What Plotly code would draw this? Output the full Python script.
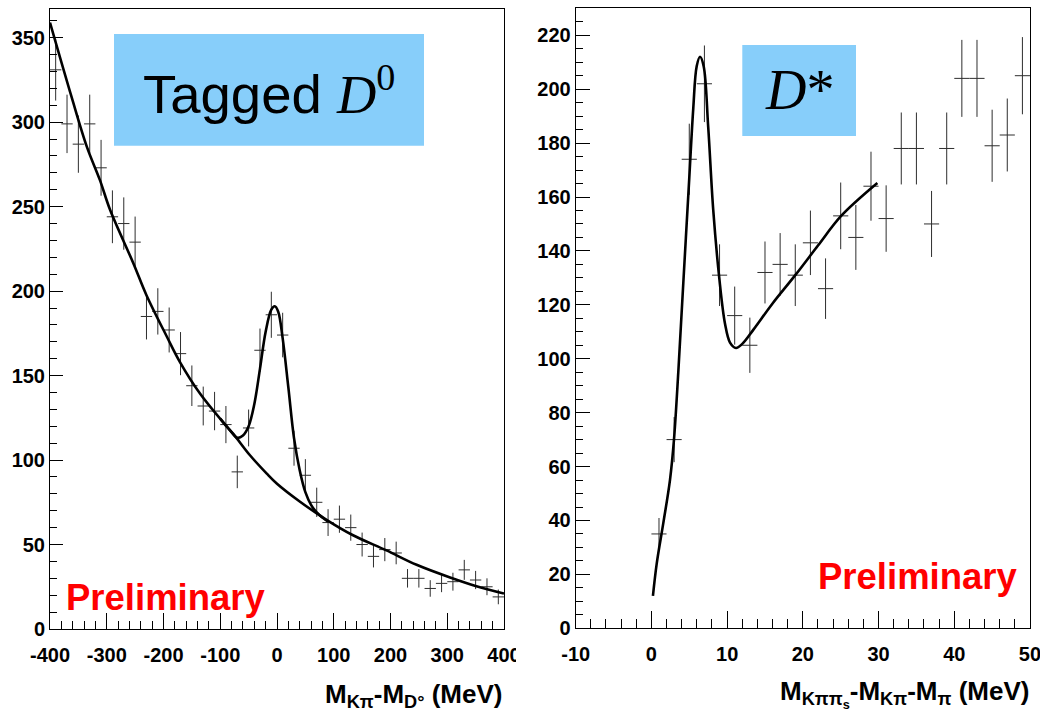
import numpy as np
import plotly.graph_objects as go

W, H = 1040, 712

# ---------------- left panel: tagged D0 ----------------
d0_mass = list(range(-390, 400, 20))  # bin centres (MeV), 20 MeV bins
d0_counts = [331, 299, 287, 299, 273, 244, 240, 229, 185, 188,
             177, 163, 144, 132, 129, 121, 93, 119, 165, 186,
             174, 107, 91, 75, 63, 65, 60, 50, 43, 47,
             45, 30, 30, 24, 27, 28, 35, 29, 25, 19]

# fitted background and background+signal curves
d0_bkg_x = [-400, -362, -335, -312, -294, -253, -230, -194, -171, -136,
            -89, -77, -48, -18, 0, 40, 88, 134, 193, 246, 305, 350, 400]
d0_bkg_y = [359, 315, 285.4, 265.7, 248, 216.4, 197.6, 173, 158, 139.5,
            120, 115.5, 103, 92, 86, 75.5, 64.5, 55.5, 46.5, 38, 30.5, 25.5, 21]
d0_fit_x = [-100, -85, -70, -60, -50, -40, -30, -20, -10, -4, 2, 10,
            20, 30, 40, 50, 60, 70, 80, 90]
d0_fit_y = [124.5, 118.5, 113.2, 114.5, 120, 133, 154, 176, 189, 191, 188, 172,
            143, 113, 94, 81, 73.5, 69, 66, 63.5]

# ---------------- right panel: D* ----------------
dst_dm = list(range(1, 50, 2))  # bin centres (MeV), 2 MeV bins
dst_counts = [35, 70, 174, 202, 131, 116, 105, 132, 135, 131,
              143, 126, 153, 145, 164, 152, 178, 178, 150, 178,
              204, 204, 179, 183, 205]

dst_fit_x = [0.2, 0.7, 1.57, 2.45, 2.98, 3.55, 4.21, 5.0, 5.53, 5.98, 6.42,
             6.9, 7.5, 8.17, 8.96, 9.72, 10.38, 11.17, 12.0, 13.45, 16.0,
             19.0, 22.0, 25.06, 29.84]
dst_fit_y = [12, 24, 39, 55, 70, 95, 128, 167, 193, 208.5, 212,
             208.5, 186, 155, 130, 113, 106, 104, 105.5, 110.7, 120.5,
             131, 142, 153, 165.2]

LEFT_TICKS = [-400, -300, -200, -100, 0, 100, 200, 300, 400]
LEFT_LABELS = ["-400", "-300", "-200", "-100", "0", "100", "200", "300", "400"]
RIGHT_TICKS = [-10, 0, 10, 20, 30, 40, 50]
RIGHT_LABELS = ["-10", "0", "10", "20", "30", "40", "50"]

ERR_COLOR = "#2e2e2e"
FONT = "Liberation Sans"


def px_x(p):
    return p / W


def px_y(p):
    return (H - p) / H


fig = go.Figure()

# data points with Poisson errors (horizontal bar = bin width)
fig.add_trace(go.Scatter(
    x=d0_mass, y=d0_counts, mode="markers",
    marker=dict(size=1, color="rgba(0,0,0,0)"),
    error_y=dict(type="data", array=np.sqrt(d0_counts), width=0, thickness=1, color=ERR_COLOR),
    error_x=dict(type="constant", value=10, width=0, thickness=1, color=ERR_COLOR),
    xaxis="x", yaxis="y", showlegend=False, hoverinfo="skip"))
fig.add_trace(go.Scatter(
    x=d0_bkg_x, y=d0_bkg_y, mode="lines",
    line=dict(color="black", width=2.6, shape="spline", smoothing=1.0),
    xaxis="x", yaxis="y", showlegend=False, hoverinfo="skip"))
fig.add_trace(go.Scatter(
    x=d0_fit_x, y=d0_fit_y, mode="lines",
    line=dict(color="black", width=2.6, shape="spline", smoothing=1.0),
    xaxis="x", yaxis="y", showlegend=False, hoverinfo="skip"))

fig.add_trace(go.Scatter(
    x=dst_dm, y=dst_counts, mode="markers",
    marker=dict(size=1, color="rgba(0,0,0,0)"),
    error_y=dict(type="data", array=np.sqrt(dst_counts), width=0, thickness=1, color=ERR_COLOR),
    error_x=dict(type="constant", value=1, width=0, thickness=1, color=ERR_COLOR),
    xaxis="x2", yaxis="y2", showlegend=False, hoverinfo="skip"))
fig.add_trace(go.Scatter(
    x=dst_fit_x, y=dst_fit_y, mode="lines",
    line=dict(color="black", width=2.6, shape="spline", smoothing=1.0),
    xaxis="x2", yaxis="y2", showlegend=False, hoverinfo="skip"))

tickfont = dict(family=FONT, size=20, color="black", weight="bold")
common = dict(showgrid=False, zeroline=False, showline=True, mirror=True,
              linecolor="black", linewidth=1, ticks="inside", tickcolor="black",
              tickwidth=1, tickfont=tickfont, automargin=False,
              ticklabeloverflow="allow")

fig.update_layout(
    width=W, height=H, margin=dict(l=0, r=0, t=0, b=0, autoexpand=False),
    paper_bgcolor="white", plot_bgcolor="white",
    xaxis=dict(domain=[px_x(50), px_x(504)], range=[-400, 400.01],
               tickmode="array", tickvals=LEFT_TICKS, ticktext=LEFT_LABELS,
               ticklen=16, anchor="y", ticklabelstandoff=8,
               minor=dict(dtick=20, tick0=0, ticks="inside", ticklen=8,
                          tickcolor="black", tickwidth=1, showgrid=False),
               **common),
    yaxis=dict(domain=[px_y(629), px_y(9)], range=[0, 367],
               tick0=0, dtick=50, ticklen=13, anchor="x",
               minor=dict(dtick=10, tick0=0, ticks="inside", ticklen=7,
                          tickcolor="black", tickwidth=1, showgrid=False),
               **common),
    xaxis2=dict(domain=[px_x(575.7), px_x(1030)], range=[-10, 50.001],
                tickmode="array", tickvals=RIGHT_TICKS, ticktext=RIGHT_LABELS,
                ticklen=17, anchor="y2", ticklabelstandoff=8,
                minor=dict(dtick=2, tick0=0, ticks="inside", ticklen=9,
                           tickcolor="black", tickwidth=1, showgrid=False),
                **common),
    yaxis2=dict(domain=[px_y(628.3), px_y(8.3)], range=[0, 230],
                tick0=0, dtick=20, ticklen=14, anchor="x2",
                minor=dict(dtick=5, tick0=0, ticks="inside", ticklen=7,
                           tickcolor="black", tickwidth=1, showgrid=False),
                **common),
)

shapes = [
    # label boxes
    dict(type="rect", xref="paper", yref="paper",
         x0=px_x(114), x1=px_x(424), y0=px_y(145.7), y1=px_y(34),
         fillcolor="#87CEFA", line=dict(width=0), layer="above"),
    dict(type="rect", xref="paper", yref="paper",
         x0=px_x(742.3), x1=px_x(856), y0=px_y(136), y1=px_y(45),
         fillcolor="#87CEFA", line=dict(width=0), layer="above"),
    # the left pad ends here: its last tick label is cut off
    dict(type="rect", xref="paper", yref="paper",
         x0=px_x(516), x1=px_x(548), y0=px_y(675), y1=px_y(636),
         fillcolor="white", line=dict(width=0), layer="above"),
]
fig.update_layout(shapes=shapes)

serif = "font-family:'Liberation Serif'"
annotations = [
    dict(x=px_x(268.5), y=px_y(90), xref="paper", yref="paper",
         text=f"Tagged <span style=\"{serif}\"><i>D</i><sup>0</sup></span>",
         showarrow=False, xanchor="center", yanchor="middle",
         font=dict(family=FONT, size=54.5, color="black")),
    dict(x=px_x(799), y=px_y(90), xref="paper", yref="paper",
         text=f"<span style=\"{serif}\"><i>D</i>*</span>",
         showarrow=False, xanchor="center", yanchor="middle",
         font=dict(family="Liberation Serif", size=56, color="black")),
    dict(x=px_x(64), y=px_y(597), xref="paper", yref="paper",
         text="Preliminary", showarrow=False, xanchor="left", yanchor="middle",
         font=dict(family=FONT, size=36.5, color="#ff0000", weight="bold")),
    dict(x=px_x(815.5), y=px_y(576), xref="paper", yref="paper",
         text="Preliminary", showarrow=False, xanchor="left", yanchor="middle",
         font=dict(family=FONT, size=36.5, color="#ff0000", weight="bold")),
    dict(x=px_x(504), y=px_y(695.5), xref="paper", yref="paper",
         text="M<sub>Kπ</sub>-M<sub>D°</sub> (MeV)",
         showarrow=False, xanchor="right", yanchor="middle",
         font=dict(family=FONT, size=26, color="black", weight="bold")),
    dict(x=px_x(1031), y=px_y(693.5), xref="paper", yref="paper",
         text="M<sub>Kππ<sub>s</sub></sub>-M<sub>Kπ</sub>-M<sub>π</sub> (MeV)",
         showarrow=False, xanchor="right", yanchor="middle",
         font=dict(family=FONT, size=26, color="black", weight="bold")),
]
fig.update_layout(annotations=annotations)

fig.write_html("out.html")
